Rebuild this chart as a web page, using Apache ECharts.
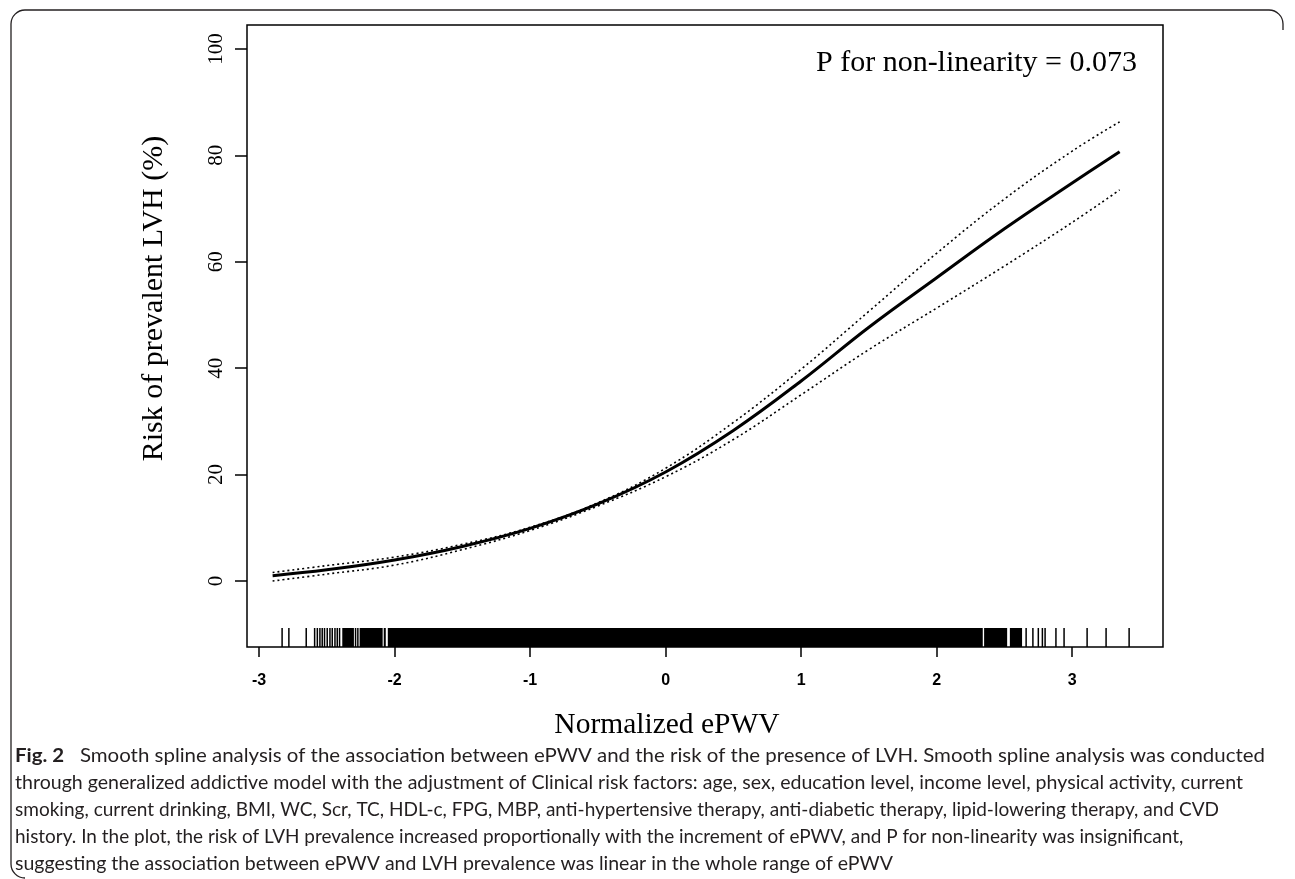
<!DOCTYPE html>
<html>
<head>
<meta charset="utf-8">
<script src="https://cdn.jsdelivr.net/npm/echarts@6/dist/echarts.min.js"></script>
<style>
  html, body { margin: 0; padding: 0; background: #fff; }
  #chart { width: 1295px; height: 879px; }
</style>
</head>
<body>
<div id="chart"></div>
<script>
// ---- data ----
var xValues   = [-2.9, -2.5, -2.0, -1.5, -1.0, -0.5, 0.0, 0.5, 1.0, 1.5, 2.0, 2.5, 3.0, 3.35];
var riskMain  = [1.0, 2.1, 3.95, 6.5, 9.9, 14.5, 20.5, 28.3, 37.6, 47.7, 57.0, 66.2, 74.8, 80.7];
var riskUpper = [1.6, 2.9, 4.5, 6.9, 10.1, 14.7, 21.2, 29.8, 39.8, 50.7, 61.6, 71.8, 80.8, 86.3];
var riskLower = [0.0, 1.3, 3.0, 5.9, 9.5, 14.1, 19.6, 26.6, 35.0, 43.5, 51.3, 59.2, 67.4, 73.5];

var rugTicks = [-2.83, -2.78, -2.652, -2.59, -2.57, -2.551, -2.534, -2.517, -2.497, -2.477,
                -2.46, -2.44, -2.423, -2.406, -2.288, -2.271,
                2.66, 2.71, 2.75, 2.78, 2.80, 2.88, 2.94, 3.11, 3.25, 3.42];
var rugBlocks = [[-2.386, -2.30], [-2.258, -2.088], [-2.080, -2.065], [-2.050, 2.34],
                 [2.35, 2.52], [2.54, 2.63]];

var xTickLabels = [-3, -2, -1, 0, 1, 2, 3];
var yTickLabels = [0, 20, 40, 60, 80, 100];

var pText = 'P for non-linearity = 0.073';
var xTitle = 'Normalized ePWV';
var yTitle = 'Risk of prevalent LVH (%)';
var captionBold = 'Fig. 2';
var captionLines = [
  'Smooth spline analysis of the association between ePWV and the risk of the presence of LVH. Smooth spline analysis was conducted',
  'through generalized addictive model with the adjustment of Clinical risk factors: age, sex, education level, income level, physical activity, current',
  'smoking, current drinking, BMI, WC, Scr, TC, HDL-c, FPG, MBP, anti-hypertensive therapy, anti-diabetic therapy, lipid-lowering therapy, and CVD',
  'history. In the plot, the risk of LVH prevalence increased proportionally with the increment of ePWV, and P for non-linearity was insignificant,',
  'suggesting the association between ePWV and LVH prevalence was linear in the whole range of ePWV'
];

// ---- layout (pixel geometry of the caption block) ----
var capLeft = 15;
var capRight = [1265, 1243, 1219, 1110, 893];
var capTop = 756, capStep = 27;

function zip(xs, ys) { return xs.map(function (x, i) { return [x, ys[i]]; }); }

var rugData = rugTicks.map(function (x) { return [x, x, 0]; })
  .concat(rugBlocks.map(function (b) { return [b[0], b[1], 1]; }));

var capFamily = 'Lato';
var cv = document.createElement('canvas').getContext('2d');
cv.font = '100px "' + capFamily + '"';
var capSize = 100 * (capRight[1] - capLeft) / cv.measureText(captionLines[1]).width;
capSize = Math.min(Math.max(capSize, 15), 20);

function measure(txt, bold) {
  cv.font = (bold ? 'bold ' : '') + capSize + 'px "' + capFamily + '"';
  return cv.measureText(txt).width;
}

var serif = 'Liberation Serif';
var captionGraphics = captionLines.map(function (t, i) {
  var full = i === 0 ? '{b|' + captionBold + '}   ' + t : t;
  var w = i === 0 ? measure(captionBold, true) + measure('   ' + t, false) : measure(t, false);
  var sx = Math.min(Math.max((capRight[i] - capLeft) / w, 0.97), 1.05);
  return {
    type: 'text',
    x: capLeft,
    y: capTop + i * capStep,
    scaleX: sx,
    style: {
      text: full,
      fontFamily: capFamily,
      fontSize: capSize,
      fill: '#231f20',
      verticalAlign: 'middle',
      align: 'left',
      rich: { b: { fontFamily: capFamily, fontSize: capSize, fontWeight: 'bold', fill: '#231f20' } }
    }
  };
});

var frameStyle = { stroke: '#231f20', lineWidth: 1.3, fill: null };
var frameGraphics = [
  { type: 'line', shape: { x1: 25, y1: 10, x2: 1269, y2: 10 }, style: frameStyle },
  { type: 'line', shape: { x1: 11, y1: 24, x2: 11, y2: 864 }, style: frameStyle },
  { type: 'line', shape: { x1: 1283, y1: 24, x2: 1283, y2: 30 }, style: frameStyle },
  { type: 'arc', shape: { cx: 25, cy: 24, r: 14, startAngle: Math.PI, endAngle: 1.5 * Math.PI, clockwise: true }, style: frameStyle },
  { type: 'arc', shape: { cx: 1269, cy: 24, r: 14, startAngle: 1.5 * Math.PI, endAngle: 2 * Math.PI, clockwise: true }, style: frameStyle },
  { type: 'arc', shape: { cx: 25, cy: 864, r: 14, startAngle: 0.5 * Math.PI, endAngle: Math.PI, clockwise: true }, style: frameStyle }
];

var chart = echarts.init(document.getElementById('chart'), null, { renderer: 'canvas' });

var option = {
  backgroundColor: '#fff',
  animation: false,
  grid: {
    left: 247, top: 25, width: 916, height: 622,
    show: true, borderColor: '#000', borderWidth: 1.5, backgroundColor: 'transparent'
  },
  xAxis: {
    type: 'value', min: -3.089, max: 3.67,
    axisLine: { show: false, onZero: false },
    splitLine: { show: false },
    axisTick: { show: true, length: 10, customValues: xTickLabels, lineStyle: { color: '#000', width: 1.5 } },
    axisLabel: {
      customValues: xTickLabels, margin: 26, color: '#000',
      fontFamily: 'Liberation Sans', fontWeight: 'bold', fontSize: 16
    },
    name: xTitle, nameLocation: 'middle', nameGap: 63,
    nameTextStyle: { fontFamily: serif, fontSize: 29.5, color: '#000', padding: [0, 76, 0, 0] }
  },
  yAxis: {
    type: 'value', min: -12.4, max: 104.5,
    axisLine: { show: false, onZero: false },
    splitLine: { show: false },
    axisTick: { show: true, length: 12, customValues: yTickLabels, lineStyle: { color: '#000', width: 1.5 } },
    axisLabel: {
      customValues: yTickLabels, rotate: 90, margin: 20, color: '#000',
      fontFamily: serif, fontSize: 21
    },
    name: yTitle, nameLocation: 'middle', nameGap: 78,
    nameTextStyle: { fontFamily: serif, fontSize: 30, color: '#000', padding: [0, 0, 0, 75] }
  },
  series: [
    {
      type: 'line', data: zip(xValues, riskUpper), smooth: 0.4, symbol: 'none',
      lineStyle: { color: '#000', width: 1.6, type: [2, 3] }, silent: true
    },
    {
      type: 'line', data: zip(xValues, riskLower), smooth: 0.4, symbol: 'none',
      lineStyle: { color: '#000', width: 1.6, type: [2, 3] }, silent: true
    },
    {
      type: 'line', data: zip(xValues, riskMain), smooth: 0.4, symbol: 'none',
      lineStyle: { color: '#000', width: 3 }, silent: true
    },
    {
      type: 'custom', data: rugData, silent: true,
      renderItem: function (params, api) {
        var kind = api.value(2);
        var xa = api.coord([api.value(0), 0])[0];
        var xb = api.coord([api.value(1), 0])[0];
        var cs = params.coordSys;
        var bottom = cs.y + cs.height;
        var len = 19;
        if (kind === 0) {
          return { type: 'line', shape: { x1: xa, y1: bottom, x2: xa, y2: bottom - len },
                   style: { stroke: '#000', lineWidth: 1.5 } };
        }
        return { type: 'rect', shape: { x: xa, y: bottom - len, width: Math.max(xb - xa, 1), height: len },
                 style: { fill: '#000' } };
      }
    }
  ],
  graphic: [
    {
      type: 'text', x: 1137, y: 63,
      style: { text: pText, fontFamily: serif, fontSize: 30, fill: '#000', align: 'right', verticalAlign: 'middle' }
    }
  ].concat(frameGraphics).concat(captionGraphics)
};

chart.setOption(option);
</script>
</body>
</html>
